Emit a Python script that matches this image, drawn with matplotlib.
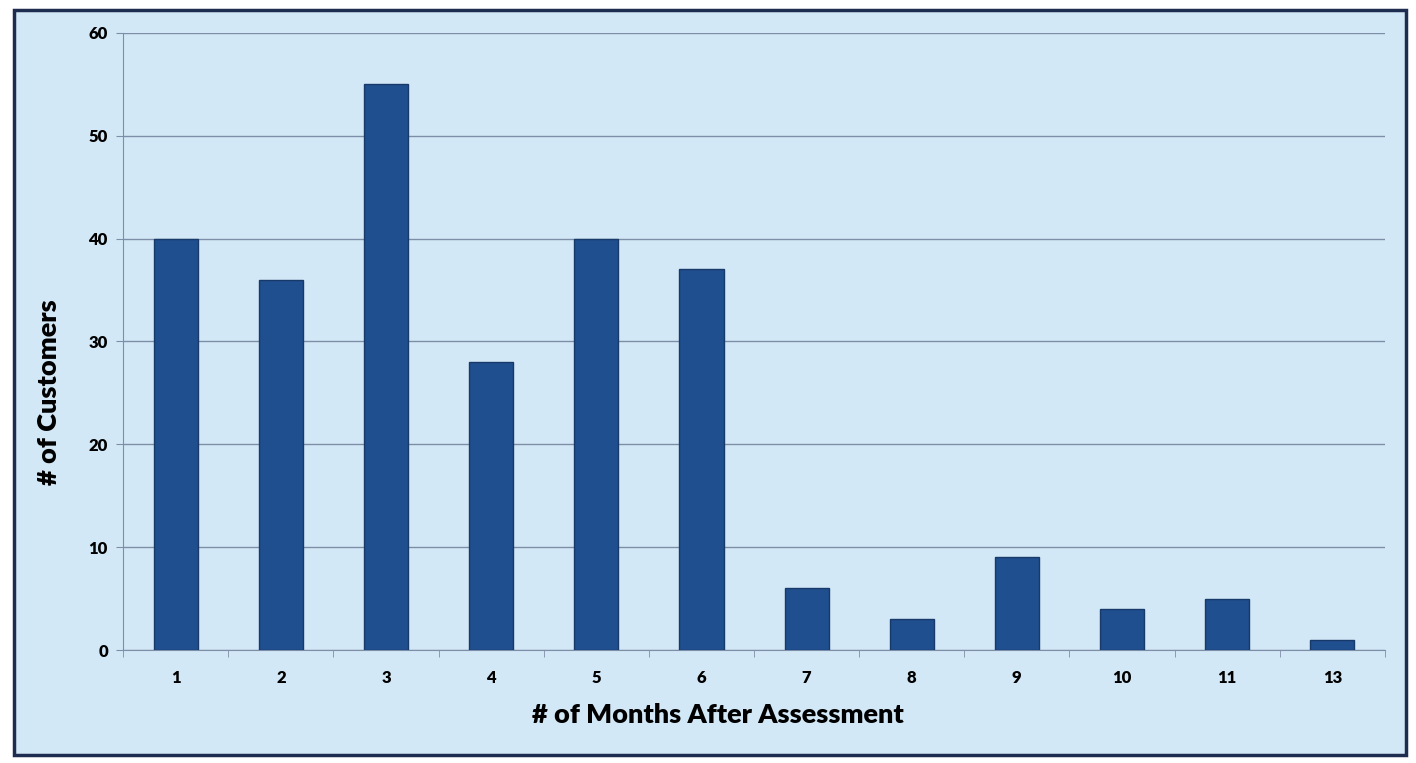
import matplotlib.pyplot as plt
import matplotlib.patches as patches

months = ["1", "2", "3", "4", "5", "6", "7", "8", "9", "10", "11", "13"]
customers = [40, 36, 55, 28, 40, 37, 6, 3, 9, 4, 5, 1]

bg = '#d3e8f6'
bar_color = '#1f4f8f'
edge_color = '#173a6b'
grid_color = '#7d8ea8'

plt.rcParams['font.family'] = ['Lato', 'DejaVu Sans']

fig = plt.figure(figsize=(14.16, 7.63), dpi=100)
fig.patch.set_facecolor('white')

# chart area frame (behind the axes)
frame = patches.Rectangle((14 / 1416, 8 / 763), 1392 / 1416, 745 / 763,
                          transform=fig.transFigure, facecolor=bg,
                          edgecolor='#1e2d4f', linewidth=2.5, zorder=-10)
fig.patches.append(frame)

ax = fig.add_axes([0.087, 0.148, 0.891, 0.809])
ax.set_zorder(1)
ax.patch.set_alpha(0)

x = range(len(months))
ax.bar(x, customers, width=0.42, color=bar_color, edgecolor=edge_color,
       linewidth=1.0, zorder=3)

ax.set_xlim(-0.5, len(months) - 0.5)
ax.set_ylim(0, 60)
ax.set_yticks(range(0, 61, 10))
ax.yaxis.grid(True, color=grid_color, linewidth=1.0, zorder=0)
ax.set_axisbelow(True)

# Excel style: tick marks between categories, labels at centers
ax.set_xticks(x)
ax.set_xticklabels(months, fontsize=12, fontweight='heavy')
ax.set_xticks([i - 0.5 for i in range(len(months) + 1)], minor=True)
ax.tick_params(axis='x', which='major', length=0, pad=14)
ax.tick_params(axis='x', which='minor', length=5, color=grid_color,
               direction='out')
ax.tick_params(axis='y', length=5, color=grid_color, direction='out',
               labelsize=12, pad=6)
for lbl in ax.get_yticklabels():
    lbl.set_fontweight('heavy')

for side in ['top', 'right']:
    ax.spines[side].set_visible(False)
ax.spines['left'].set_color(grid_color)
ax.spines['bottom'].set_color(grid_color)

ax.set_xlabel("# of Months After Assessment", fontsize=19.5, fontweight='heavy')
ax.set_ylabel("# of Customers", fontsize=19.5, fontweight='heavy')
ax.xaxis.set_label_coords(0.471, -0.086)
ax.yaxis.set_label_coords(-0.049, 0.418)

fig.savefig('out.png', dpi=100)
